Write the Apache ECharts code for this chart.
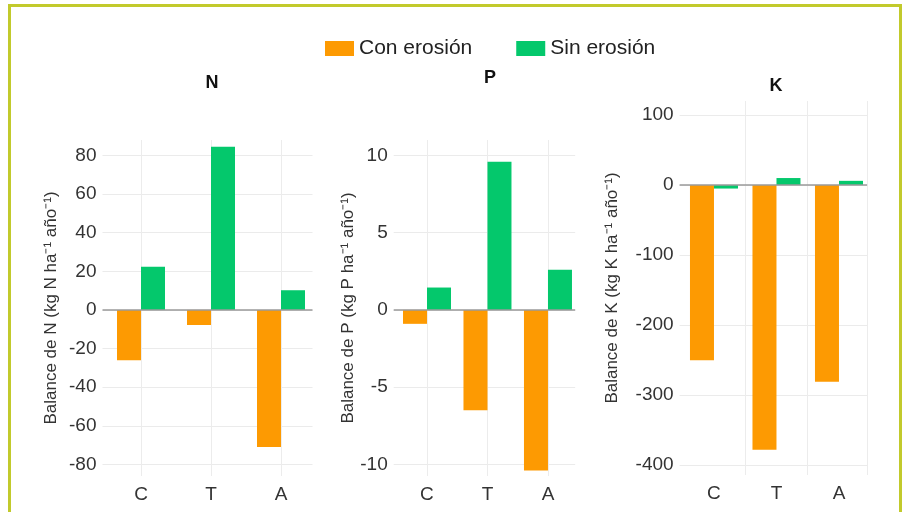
<!DOCTYPE html>
<html>
<head>
<meta charset="utf-8">
<script src="https://cdn.jsdelivr.net/npm/echarts@6/dist/echarts.min.js"></script>
<style>
html,body{margin:0;padding:0;background:#fff;}
#c{width:908px;height:512px;}
</style>
</head>
<body>
<div id="c"></div>
<script>
var categories = ['C', 'T', 'A'];
var seriesNames = ['Con erosión', 'Sin erosión'];
var nConErosion = [-26, -7.8, -71];
var nSinErosion = [22.3, 84.5, 10.2];
var pConErosion = [-0.9, -6.5, -10.4];
var pSinErosion = [1.45, 9.6, 2.6];
var kConErosion = [-250, -378, -281];
var kSinErosion = [-5, 10, 6];
var nTicks = [-80, -60, -40, -20, 0, 20, 40, 60, 80];
var pTicks = [-10, -5, 0, 5, 10];
var kTicks = [-400, -300, -200, -100, 0, 100];
var panelTitles = ['N', 'P', 'K'];
var yNames = ['Balance de N (kg N ha⁻¹ año⁻¹)', 'Balance de P (kg P ha⁻¹ año⁻¹)', 'Balance de K (kg K ha⁻¹ año⁻¹)'];

var ORANGE = '#FD9A02';
var GREEN = '#04C86C';
var FONT = 'Liberation Sans, Arial, sans-serif';
var catPos = categories.map(function (c, i) { return i + 1; });
function pairs(vals) { return vals.map(function (v, i) { return [catPos[i], v]; }); }

var grids = [
  {left: 102.5, top: 140, width: 210, height: 336},
  {left: 393.7, top: 140, width: 181.5, height: 336},
  {left: 679.6, top: 101, width: 187.5, height: 374}
];
var yRanges = [[-86, 88], [-10.75, 11], [-414, 120]];
var yTickSets = [nTicks, pTicks, kTicks];
var xGridSets = [catPos, catPos, [1.5, 2.5, 3.45]];
var nameGaps = [43, 37, 59];
var dataSets = [[nConErosion, nSinErosion], [pConErosion, pSinErosion], [kConErosion, kSinErosion]];

var xAxes = [], yAxes = [], series = [];
for (var g = 0; g < 3; g++) {
  xAxes.push({
    type: 'value', gridIndex: g, min: 0.45, max: 3.45,
    axisLine: {show: false},
    axisTick: {show: false, customValues: xGridSets[g]},
    splitLine: {show: true, lineStyle: {color: '#ececec', width: 1}},
    axisLabel: {
      customValues: catPos, margin: 9,
      fontSize: 19, color: '#333', fontFamily: FONT,
      formatter: function (v) { return categories[Math.round(v) - 1]; }
    }
  });
  yAxes.push({
    type: 'value', gridIndex: g, min: yRanges[g][0], max: yRanges[g][1],
    name: yNames[g], nameLocation: 'middle', nameGap: nameGaps[g], nameRotate: 90,
    nameTextStyle: {fontSize: 17, color: '#333', fontFamily: FONT},
    axisLine: {show: false},
    axisTick: {show: false, customValues: yTickSets[g]},
    splitLine: {show: true, lineStyle: {color: '#ebebeb', width: 1}},
    axisLabel: {customValues: yTickSets[g], margin: 6, fontSize: 19, color: '#333', fontFamily: FONT}
  });
  for (var s = 0; s < 2; s++) {
    var ser = {
      name: seriesNames[s], type: 'bar', xAxisIndex: g, yAxisIndex: g,
      data: pairs(dataSets[g][s]), barWidth: 24, barGap: '0%',
      itemStyle: {color: s === 0 ? ORANGE : GREEN},
      animation: false
    };
    if (s === 1) {
      ser.markLine = {
        silent: true, symbol: ['none', 'none'], label: {show: false},
        lineStyle: {color: '#9a9a9a', width: 1.5, type: 'solid'},
        data: [{yAxis: 0}], animation: false
      };
    }
    series.push(ser);
  }
}

var titlePos = [[212, 83], [490, 78], [776, 86]];
var graphics = [{
  type: 'rect', shape: {x: 9.5, y: 5.5, width: 891, height: 530},
  style: {fill: 'none', stroke: '#C2CA2C', lineWidth: 3}, silent: true
}];
for (var t = 0; t < 3; t++) {
  graphics.push({
    type: 'text', x: titlePos[t][0], y: titlePos[t][1],
    style: {text: panelTitles[t], fontSize: 18, fontWeight: 'bold', fontFamily: FONT,
      fill: '#111', align: 'center', verticalAlign: 'middle', textAlign: 'center', textVerticalAlign: 'middle'}
  });
}

var chart = echarts.init(document.getElementById('c'), null, {renderer: 'canvas'});
chart.setOption({
  backgroundColor: '#fff',
  animation: false,
  legend: {
    data: seriesNames, left: 320, top: 33, icon: 'rect',
    itemWidth: 29, itemHeight: 15, itemGap: 44,
    textStyle: {fontSize: 21, color: '#222', fontFamily: FONT}
  },
  grid: grids,
  xAxis: xAxes,
  yAxis: yAxes,
  series: series,
  graphic: graphics
});
</script>
</body>
</html>
